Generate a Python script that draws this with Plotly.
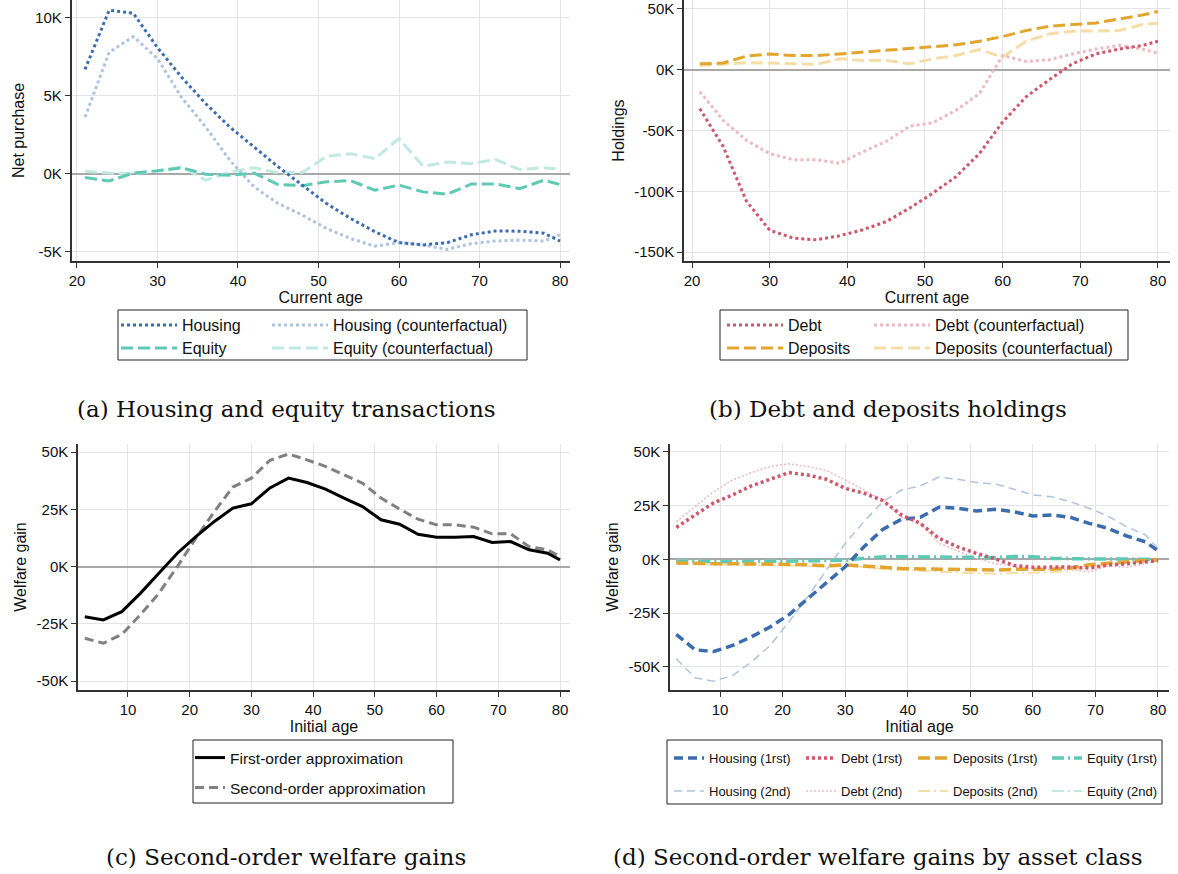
import plotly.graph_objects as go

# ---------------- DATA (values in thousands) ----------------
ages_ab = [21, 24, 27, 30, 33, 36, 39, 42, 45, 48, 51, 54, 57, 60, 63, 66, 69, 72, 75, 78, 80]
housing = [6.7, 10.5, 10.3, 8.1, 6.2, 4.5, 3.0, 1.7, 0.45, -0.72, -1.9, -2.86, -3.7, -4.4, -4.55, -4.4, -3.9, -3.65, -3.67, -3.8, -4.3]
housing_cf = [3.65, 7.8, 8.8, 7.4, 4.9, 3.0, 0.87, -0.83, -1.9, -2.64, -3.5, -4.14, -4.63, -4.4, -4.55, -4.84, -4.46, -4.3, -4.24, -4.3, -3.9]
equity = [-0.23, -0.45, 0.06, 0.2, 0.4, -0.02, -0.09, 0.06, -0.68, -0.75, -0.5, -0.43, -1.04, -0.72, -1.15, -1.3, -0.64, -0.64, -0.94, -0.4, -0.68]
equity_cf = [0.17, 0.06, 0.02, 0.2, 0.45, -0.4, 0.13, 0.4, 0.06, 0.1, 1.13, 1.3, 0.98, 2.26, 0.49, 0.77, 0.66, 0.92, 0.28, 0.4, 0.3]

debt = [-32, -63, -108, -132, -138.5, -140, -136.6, -131.7, -125, -114, -101.6, -88, -69, -43, -22.4, -8.2, 5, 13, 17, 20, 23.5]
debt_cf = [-18, -41.5, -58, -69, -74, -74, -77, -67.5, -59, -46.5, -43.7, -33.3, -19.7, 11.7, 6.8, 8.2, 13, 17, 20, 17, 13.7]
deposits = [4.9, 5.5, 11.2, 13, 11.7, 11.7, 13, 14.5, 16, 17.2, 18.6, 20.5, 23.5, 27.3, 32.2, 35.8, 37.2, 38.5, 41.8, 45, 48]
deposits_cf = [3.5, 4.9, 5.7, 5.5, 4.9, 4.4, 9, 7.7, 7.7, 4.9, 9, 11.7, 16.7, 10.4, 23.5, 29.5, 31.7, 31.7, 32.2, 37.2, 38.2]

ages_cd = [3, 6, 9, 12, 15, 18, 21, 24, 27, 30, 33, 36, 39, 42, 45, 48, 51, 54, 57, 60, 63, 66, 69, 72, 75, 78, 80]
first_order = [-21.9, -23.3, -19.7, -11.7, -2.9, 5.8, 13.1, 19.7, 25.5, 27.4, 34.3, 38.6, 36.7, 33.8, 29.9, 26.2, 20.4, 18.5, 14.1, 12.8, 12.8, 13.1, 10.5, 10.9, 7.3, 5.8, 2.9]
second_order = [-31.3, -33.5, -29.6, -21.1, -11.7, 0.0, 12.4, 24.0, 34.7, 38.6, 46.4, 49.1, 46.6, 43.7, 40.1, 36.4, 29.9, 25.1, 20.7, 18.2, 18.2, 17.2, 14.3, 14.3, 8.7, 7.3, 4.4]

housing_1 = [-34.8, -42, -42.8, -40, -36, -31.4, -25.7, -18.2, -10.4, -3.4, 5.9, 14, 18.7, 19.6, 24.3, 23.8, 22.6, 23.3, 22.2, 20.2, 20.7, 19.6, 16.8, 14.5, 10.9, 8.2, 4]
housing_2 = [-46.2, -55, -56.6, -54, -47.7, -40, -29, -17.4, -5, 7.5, 17.6, 26.9, 32.3, 34.2, 38.3, 37.3, 35.8, 35.1, 32.7, 30, 29.2, 26.9, 23.8, 20.2, 15.2, 11.4, 5.1]
debt_1 = [14.9, 20.7, 26.4, 30, 34.2, 37.3, 40.4, 39.3, 37.3, 33.1, 30.8, 27.4, 20.7, 16.8, 9.8, 5.9, 2.8, 0.3, -2.8, -3.6, -3.6, -3.5, -4.0, -2.6, -2.0, -1.2, -0.5]
debt_2 = [17.6, 24.6, 31.6, 37, 40.4, 43.2, 44.5, 43.2, 41.4, 37, 32.3, 27.7, 19.6, 16.8, 7.5, 4, 0.5, -1.9, -3.4, -4.6, -4.7, -4.7, -5.8, -3.0, -3.6, -1.6, -0.6]
deposits_1 = [-1.6, -2.0, -2.0, -2.0, -2.0, -2.1, -2.3, -2.5, -3.0, -2.5, -3.0, -3.9, -4.2, -4.4, -4.6, -4.9, -5.0, -4.9, -4.6, -4.6, -4.5, -4.0, -2.4, -1.8, -1.0, -0.5, -0.2]
deposits_2 = [-1.9, -2.3, -2.4, -2.4, -2.4, -2.6, -2.8, -3.0, -3.3, -3.0, -3.5, -4.4, -4.9, -5.3, -5.8, -6.1, -6.4, -6.6, -6.3, -6.2, -5.9, -5.2, -3.6, -2.6, -1.6, -0.8, -0.3]
equity_1 = [-0.8, -1.0, -1.2, -1.1, -1.0, -0.9, -0.8, -0.7, -0.6, -0.4, 0.6, 1.2, 1.3, 1.2, 1.1, 0.9, 0.8, 0.9, 1.4, 1.3, 0.5, 0.3, 0.3, 0.2, 0.2, 0.1, 0.0]
equity_2 = [-0.5, -0.7, -0.9, -0.8, -0.7, -0.6, -0.5, -0.4, -0.3, -0.2, 0.8, 1.5, 1.6, 1.4, 1.3, 1.1, 1.0, 1.1, 1.7, 1.6, 0.7, 0.4, 0.4, 0.3, 0.2, 0.1, 0.0]

# tick values / labels
xt_ab = [20, 30, 40, 50, 60, 70, 80]
xt_cd = [10, 20, 30, 40, 50, 60, 70, 80]
yt_a = [-5, 0, 5, 10]
yt_a_lab = ["-5K", "0K", "5K", "10K"]
yt_b = [-150, -100, -50, 0, 50]
yt_b_lab = ["-150K", "-100K", "-50K", "0K", "50K"]
yt_cd = [-50, -25, 0, 25, 50]
yt_cd_lab = ["-50K", "-25K", "0K", "25K", "50K"]

captions = ["(a) Housing and equity transactions", "(b) Debt and deposits holdings",
            "(c) Second-order welfare gains", "(d) Second-order welfare gains by asset class"]

# ---------------- STYLE ----------------
W, H = 1178, 874
C_HOUS, C_HOUS_L = "#3B6DAE", "#AFC3E0"
C_EQ, C_EQ_L = "#5ECAB5", "#C0EADF"
C_DEBT, C_DEBT_L = "#CF566B", "#EDB9C3"
C_DEP, C_DEP_L = "#E2A52E", "#F5DDA8"
SANS = "Liberation Sans"


def fx(p):
    return p / W


def fy(p):
    return 1 - p / H


fig = go.Figure()


def add(x, y, name, color, width, dash, axis, legend, rank, lw=None):
    fig.add_trace(go.Scatter(
        x=x, y=y, name=name, mode="lines",
        line=dict(color=color, width=width, dash=dash),
        xaxis="x" + axis, yaxis="y" + axis, legend=legend, legendrank=rank,
        legendwidth=lw, hoverinfo="skip"))


DOT = "dot"
LDASH = "12px,5px"
DASHDOT = "12px,4px,2px,4px"

# panel (a)
add(ages_ab, equity_cf, "Equity (counterfactual)", C_EQ_L, 3, LDASH, "", "legend2", 2, 190)
add(ages_ab, housing_cf, "Housing (counterfactual)", C_HOUS_L, 3, DOT, "", "legend", 2, 190)
add(ages_ab, equity, "Equity", C_EQ, 3, LDASH, "", "legend2", 1, 80)
add(ages_ab, housing, "Housing", C_HOUS, 3, DOT, "", "legend", 1, 80)
# panel (b)
add(ages_ab, deposits_cf, "Deposits (counterfactual)", C_DEP_L, 3, LDASH, "2", "legend4", 2, 190)
add(ages_ab, debt_cf, "Debt (counterfactual)", C_DEBT_L, 3, DOT, "2", "legend3", 2, 190)
add(ages_ab, deposits, "Deposits", C_DEP, 3, LDASH, "2", "legend4", 1, 76)
add(ages_ab, debt, "Debt", C_DEBT, 3, DOT, "2", "legend3", 1, 76)
# panel (c)
add(ages_cd, second_order, "Second-order approximation", "#808080", 3, "9px,5px", "3", "legend6", 1)
add(ages_cd, first_order, "First-order approximation", "#000000", 3, "solid", "3", "legend5", 1)
# panel (d)
add(ages_cd, housing_2, "Housing (2nd)", C_HOUS_L, 1.5, "8px,5px", "4", "legend8", 1, 87)
add(ages_cd, debt_2, "Debt (2nd)", C_DEBT_L, 1.5, "2px,2px", "4", "legend8", 2, 67)
add(ages_cd, deposits_2, "Deposits (2nd)", C_DEP_L, 2, DASHDOT, "4", "legend8", 3, 89)
add(ages_cd, equity_2, "Equity (2nd)", C_EQ_L, 2, DASHDOT, "4", "legend8", 4, 80)
add(ages_cd, equity_1, "Equity (1rst)", C_EQ, 3.5, DASHDOT, "4", "legend7", 4, 80)
add(ages_cd, deposits_1, "Deposits (1rst)", C_DEP, 3.5, "12px,5px", "4", "legend7", 3, 89)
add(ages_cd, housing_1, "Housing (1rst)", C_HOUS, 3.5, "9px,5px", "4", "legend7", 1, 87)
add(ages_cd, debt_1, "Debt (1rst)", C_DEBT, 3.5, "3px,3px", "4", "legend7", 2, 67)

axis_common = dict(showline=True, linecolor="#333333", linewidth=1.5, ticks="outside", ticklen=5,
                   tickcolor="#333333", tickwidth=1.2, showgrid=True, gridcolor="#e4e4e4", gridwidth=1,
                   tickfont=dict(family=SANS, size=15, color="#111111"), automargin=False,
                   zeroline=False, mirror=False)
title_font = dict(family=SANS, size=16, color="#111111")


def xax(domain, rng, tv, anchor, title):
    d = dict(axis_common)
    d.update(domain=domain, range=rng, tickvals=tv, anchor=anchor,
             title=dict(text=title, font=title_font, standoff=1))
    return d


def yax(domain, rng, tv, tl, anchor, title):
    d = dict(axis_common)
    d.update(domain=domain, range=rng, tickvals=tv, ticktext=tl, anchor=anchor,
             zeroline=True, zerolinecolor="#a8a8a8", zerolinewidth=1.5,
             title=dict(text=title, font=title_font, standoff=6))
    return d


fig.update_layout(
    width=W, height=H, margin=dict(l=0, r=0, t=0, b=0, autoexpand=False),
    paper_bgcolor="white", plot_bgcolor="white",
    font=dict(family=SANS, color="#111111"),
    xaxis=xax([fx(71.5), fx(570)], [19.32, 81.24], xt_ab, "y", "Current age"),
    yaxis=yax([fy(261), 1.0], [-5.58, 11.15], yt_a, yt_a_lab, "x", "Net purchase"),
    xaxis2=xax([fx(684), fx(1170)], [18.97, 81.55], xt_ab, "y2", "Current age"),
    yaxis2=yax([fy(261), 1.0], [-157.4, 57.4], yt_b, yt_b_lab, "x2", "Holdings"),
    xaxis3=xax([fx(78), fx(570)], [1.9, 81.62], xt_cd, "y3", "Initial age"),
    yaxis3=yax([fy(690), fy(444)], [-53.9, 53.5], yt_cd, yt_cd_lab, "x3", "Welfare gain"),
    xaxis4=xax([fx(670), fx(1169)], [2.0, 81.76], xt_cd, "y4", "Initial age"),
    yaxis4=yax([fy(690), fy(444)], [-60.7, 53.7], yt_cd, yt_cd_lab, "x4", "Welfare gain"),
    showlegend=True,
)


def leg(xp, yp, size, itemwidth=30):
    return dict(x=fx(xp), y=fy(yp), xanchor="left", yanchor="middle", orientation="h",
                bgcolor="rgba(0,0,0,0)", borderwidth=0, itemwidth=itemwidth,
                font=dict(family=SANS, size=size, color="#111111"),
                entrywidthmode="pixels", traceorder="normal")


fig.update_layout(
    legend=leg(116, 325, 16, 56), legend2=leg(116, 348, 16, 56),
    legend3=leg(722, 325, 16, 56), legend4=leg(722, 348, 16, 56),
    legend5=leg(190, 758, 15.5), legend6=leg(190, 788, 15.5),
    legend7=leg(669, 758, 13), legend8=leg(669, 791, 13),
)

# legend boxes
for (x0, y0, x1, y1) in [(118, 310, 527, 360), (720, 310, 1128, 360), (193, 740, 453, 803), (667, 740, 1162, 804)]:
    fig.add_shape(type="rect", xref="paper", yref="paper", x0=fx(x0), x1=fx(x1), y0=fy(y1), y1=fy(y0),
                  line=dict(color="#222222", width=1), fillcolor="rgba(0,0,0,0)", layer="above")

for text, (cx, cy) in zip(captions, [(286, 409), (888, 409), (286, 857), (877, 857)]):
    fig.add_annotation(text=text, xref="paper", yref="paper", x=fx(cx), y=fy(cy),
                       xanchor="center", yanchor="middle", showarrow=False,
                       font=dict(family="DejaVu Serif", size=23, color="#111111"))

fig.write_html("out.html", config={"displayModeBar": False},
               post_script="document.body.style.margin='0';")
